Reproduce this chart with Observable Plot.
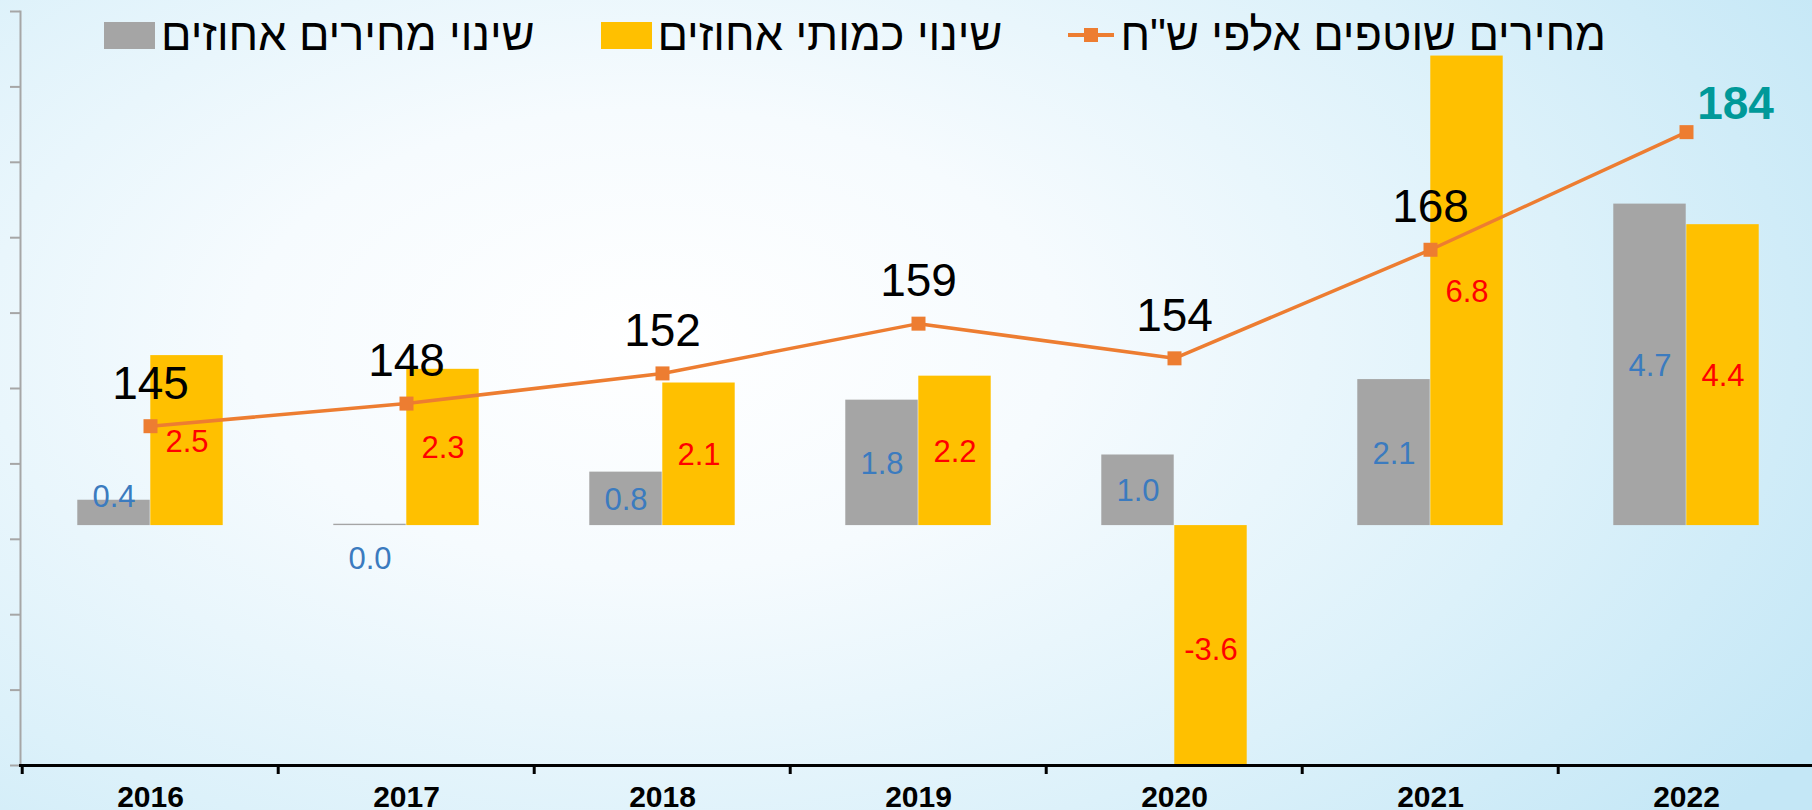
<!DOCTYPE html>
<html>
<head>
<meta charset="utf-8">
<script src="https://cdn.jsdelivr.net/npm/d3@7"></script>
<script src="https://cdn.jsdelivr.net/npm/@observablehq/plot@0.6"></script>
<style>
html, body { margin: 0; padding: 0; }
body {
  width: 1812px; height: 810px; overflow: hidden;
  font-family: "Liberation Sans", Arial, "DejaVu Sans", sans-serif;
  background: radial-gradient(ellipse 75% 95% at 36% 42%, #ffffff 0%, #f6fbfe 30%, #dcf1fa 68%, #c4e7f6 100%);
}
#wrap { position: relative; width: 1812px; height: 810px; }
#chart svg { display: block; }
#legend {
  position: absolute; top: 10px; right: 206px;
  display: flex; flex-direction: row; direction: rtl; align-items: center;
  gap: 66px; font-size: 45px; color: #000; line-height: 50px;
}
.item { display: flex; align-items: center; gap: 6px; white-space: nowrap; }
.sw { width: 51px; height: 27px; display: inline-block; }
.ln { width: 46px; height: 27px; position: relative; display: inline-block; }
.ln::before { content: ""; position: absolute; left: 0; right: 0; top: 11.5px; height: 4px; background: #ED7D31; }
.ln::after { content: ""; position: absolute; left: 16px; top: 6.5px; width: 14px; height: 14px; background: #ED7D31; }
</style>
</head>
<body>
<div id="wrap"><div id="chart"></div><div id="legend"></div></div>
<script>
// ---- data ----
const years = ["2016", "2017", "2018", "2019", "2020", "2021", "2022"];
const priceChange = [0.37, 0.02, 0.78, 1.83, 1.03, 2.13, 4.69];      // שינוי מחירים אחוזים
const quantityChange = [2.48, 2.28, 2.08, 2.18, -3.6, 6.85, 4.39];   // שינוי כמותי אחוזים
const currentPrices = [145, 148, 152, 158.6, 154, 168.4, 184];        // מחירים שוטפים אלפי ש"ח
const legendLabels = ["מחירים שוטפים אלפי ש\"ח", "שינוי כמותי אחוזים", "שינוי מחירים אחוזים"];
const lineTicks = [100, 110, 120, 130, 140, 150, 160, 170, 180, 190, 200];

// ---- scales setup ----
const Y_MIN = 100, Y_MAX = 200;      // primary (line) axis
const BAR_MIN = -3.5, BAR_MAX = 7.5; // secondary (bar) axis
const toLine = v => Y_MIN + (v - BAR_MIN) / (BAR_MAX - BAR_MIN) * (Y_MAX - Y_MIN);

const W = 1812, H = 810, ML = 20, MR = -4, MT = 11, MB = 45;
const half = (W - ML - MR) / years.length / 2;
const barW = 73;

const data = years.map((year, i) => ({
  year, price: priceChange[i], qty: quantityChange[i], level: currentPrices[i]
}));

const fmt1 = v => v.toFixed(1);
// label position (in bar units): centred in bar; tiny bars get the label nudged
const grayLabelPos = v => v < 0.1 ? -0.47 : v < 0.5 ? v / 2 + 0.25 : v / 2;
const font = "Liberation Sans, Arial, sans-serif";

const chart = Plot.plot({
  width: W, height: H,
  marginLeft: ML, marginRight: MR, marginTop: MT, marginBottom: MB,
  style: { background: "transparent", fontFamily: font, overflow: "visible" },
  x: { domain: years, padding: 0, label: null },
  y: { domain: [Y_MIN, Y_MAX], label: null },
  marks: [
    // bars
    Plot.barY(data, {
      x: "year", y1: () => toLine(0), y2: d => toLine(d.price),
      fill: "#A5A5A5", insetLeft: half - barW, insetRight: half, clip: true
    }),
    Plot.barY(data, {
      x: "year", y1: () => toLine(0), y2: d => toLine(d.qty),
      fill: "#FFC000", insetLeft: half, insetRight: half - barW, clip: true
    }),
    // left axis
    Plot.axisY({ ticks: lineTicks, tickSize: 10, tickFormat: () => "", stroke: "#A6A6A6", strokeWidth: 2, fill: "none", label: null }),
    Plot.frame({ anchor: "left", stroke: "#A6A6A6", strokeWidth: 2 }),
    // bottom axis
    Plot.frame({ anchor: "bottom", stroke: "#000", strokeWidth: 3 }),
    Plot.axisX({ tickSize: 9, dx: -half, stroke: "#000", strokeWidth: 3, fill: "none", label: null }),
    Plot.axisX({ tickSize: 0, tickPadding: 20, fontSize: 30, fontWeight: "bold", fill: "#000", stroke: "none", label: null }),
    // line
    Plot.line(data, { x: "year", y: "level", stroke: "#ED7D31", strokeWidth: 3.5 }),
    Plot.dot(data, { x: "year", y: "level", symbol: "square", r: 7.9, fill: "#ED7D31", stroke: "none" }),
    // bar labels
    Plot.text(data, {
      x: "year", y: d => toLine(grayLabelPos(d.price)), text: d => fmt1(d.price),
      dx: -barW / 2, dy: 1, fill: "#3B7BBF", fontSize: 31
    }),
    Plot.text(data, {
      x: "year", y: d => toLine(d.qty / 2), text: d => fmt1(d.qty),
      dx: barW / 2, dy: 1, fill: "#FF0000", fontSize: 31
    }),
    // line labels
    Plot.text(data.slice(0, -1), {
      x: "year", y: "level", text: d => d.level.toFixed(0),
      dy: -42, fill: "#000", fontSize: 46
    }),
    Plot.text(data.slice(-1), {
      x: "year", y: "level", text: d => d.level.toFixed(0),
      dx: 49, dy: -28, fill: "#009999", fontSize: 46, fontWeight: "bold"
    })
  ]
});

document.getElementById("chart").appendChild(chart);

// legend
const legend = document.getElementById("legend");
const swatches = ["ln", "#FFC000", "#A5A5A5"];
legendLabels.forEach((lab, i) => {
  const item = document.createElement("div");
  item.className = "item";
  const t = document.createElement("span");
  t.textContent = lab;
  const s = document.createElement("span");
  if (swatches[i] === "ln") s.className = "ln";
  else { s.className = "sw"; s.style.background = swatches[i]; }
  item.appendChild(t); item.appendChild(s);
  legend.appendChild(item);
});
</script>
</body>
</html>
